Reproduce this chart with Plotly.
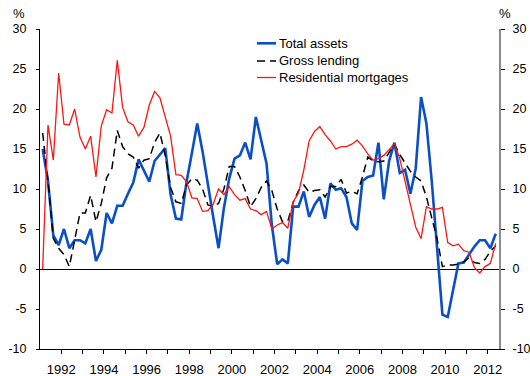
import pandas as pd
import plotly.graph_objects as go

# Quarterly observations, 1991 Q1 to 2012 Q2 (annual percentage change)
quarters = pd.period_range("1991Q1", "2012Q2", freq="Q")

total_assets = [
    15.0, 11.0, 4.2, 3.0, 5.0, 2.6, 3.6, 3.6, 3.2, 5.0,
    1.0, 2.4, 7.0, 5.7, 7.9, 7.9, 9.4, 10.8, 13.7, 12.4,
    10.9, 13.5, 14.3, 15.1, 9.3, 6.3, 6.2, 10.9, 14.5, 18.2,
    14.7, 10.3, 6.5, 2.6, 7.6, 11.3, 13.8, 14.2, 15.8, 13.7,
    19.0, 16.1, 13.2, 5.5, 0.6, 1.2, 0.7, 7.8, 7.8, 9.7,
    6.5, 8.0, 9.0, 6.3, 10.7, 9.9, 10.1, 9.0, 5.7, 4.9,
    11.0, 11.5, 11.7, 15.8, 8.7, 13.5, 15.8, 12.0, 12.4, 9.4,
    12.6, 21.5, 18.2, 11.0, 3.0, -5.7, -6.0, -2.6, 0.7, 0.8,
    1.8, 2.8, 3.6, 3.6, 2.6, 4.4,
]

gross_lending = [
    17.0, 11.0, 3.8, 2.6, 1.8, 0.3, 3.6, 7.0, 7.0, 9.2,
    5.9, 8.2, 11.4, 12.6, 17.3, 15.3, 14.4, 14.0, 12.6, 13.6,
    13.8, 15.8, 17.0, 14.2, 10.2, 8.4, 8.2, 10.5, 11.3, 11.1,
    10.0, 8.0, 7.8, 8.2, 10.0, 12.8, 12.8, 11.5, 9.8, 7.8,
    8.8, 10.2, 11.0, 9.8, 7.5, 5.9, 6.0, 8.3, 9.8, 10.5,
    9.6, 9.8, 9.9, 9.0, 10.3, 10.3, 11.2, 9.5, 9.7, 9.4,
    11.5, 14.0, 13.5, 13.4, 13.5, 14.6, 15.6, 14.3, 13.3, 12.2,
    11.5, 11.0, 9.0, 6.5, 3.8, 0.3, 0.5, 0.5, 0.6, 0.9,
    1.4, 0.8, 0.7, 1.2, 2.2, 2.9,
]

residential_mortgages = [
    0.0, 18.0, 13.6, 24.5, 18.1, 18.0, 20.0, 16.5, 15.0, 16.6,
    11.5, 17.9, 19.9, 19.5, 26.1, 20.2, 18.4, 18.0, 16.6, 17.7,
    20.5, 22.2, 21.4, 18.9, 16.6, 11.8, 11.7, 10.9, 8.9, 8.8,
    7.2, 7.3, 8.1, 10.0, 9.3, 10.3, 9.3, 8.6, 8.8, 7.5,
    7.3, 6.8, 7.2, 5.0, 5.5, 5.8, 5.1, 8.4, 9.5, 12.4,
    16.0, 17.2, 17.8, 16.8, 16.0, 15.0, 15.3, 15.3, 15.6, 16.1,
    15.4, 14.4, 13.6, 13.8, 14.2, 14.9, 15.7, 13.8, 11.0, 8.3,
    5.2, 3.8, 7.8, 7.5, 7.5, 7.7, 3.3, 2.9, 3.1, 2.3,
    2.1, 0.2, -0.5, 0.3, 0.7, 3.2,
]

year_ticks = list(range(1992, 2013))
year_labels = [str(y) if y % 2 == 0 else "" for y in year_ticks]
y_ticks = list(range(-10, 31, 5))
y_labels = [str(v) for v in y_ticks]  # plain hyphen for negatives

series_names = ["Total assets", "Gross lending", "Residential mortgages"]
series_colors = ["#0a4fc8", "#000000", "#ff1414"]
series_widths = [2.6, 1.5, 1.3]
series_dash = ["solid", "8px,5px", "solid"]

# Mid-quarter positions on a decimal-year axis
x_pos = [q.year + (q.quarter - 1) / 4 + 0.125 for q in quarters]

FONT = "Arial, Liberation Sans, sans-serif"
TICK_FONT = dict(family=FONT, size=12.5, color="#000000")

fig = go.Figure()
for name, vals, col, w, d in zip(series_names,
                                 [total_assets, gross_lending, residential_mortgages],
                                 series_colors, series_widths, series_dash):
    fig.add_trace(go.Scatter(
        x=x_pos, y=vals, mode="lines", name=name,
        line=dict(color=col, width=w, dash=d),
        showlegend=False,
    ))

fig.update_layout(
    width=530, height=376,
    margin=dict(l=40, r=31, t=29, b=27),
    paper_bgcolor="white", plot_bgcolor="white",
    font=dict(family=FONT, size=13, color="#000000"),
    xaxis=dict(
        range=[1991.0, 2012.53], tickvals=year_ticks, ticktext=year_labels,
        ticks="outside", ticklen=4, tickcolor="#000000", tickwidth=1,
        showline=True, linecolor="#000000", linewidth=1,
        showgrid=False, zeroline=False, ticklabelstandoff=4,
        automargin=False, tickfont=dict(family=FONT, size=13, color="#000000"),
    ),
    yaxis=dict(
        range=[-10, 30], tickvals=y_ticks, ticktext=y_labels,
        ticks="outside", ticklen=3, tickcolor="#000000",
        showline=True, linecolor="#000000", linewidth=1,
        showgrid=False, zeroline=True, zerolinecolor="#000000", zerolinewidth=1.3,
        ticklabelstandoff=7, automargin=False, tickfont=TICK_FONT,
    ),
    yaxis2=dict(
        range=[-10, 30], tickvals=y_ticks, ticktext=y_labels,
        overlaying="y", side="right",
        ticks="outside", ticklen=4, tickcolor="#000000",
        showline=True, linecolor="#8c8c8c", linewidth=2,
        showgrid=False, zeroline=False, ticklabelstandoff=5,
        automargin=False, tickfont=TICK_FONT,
    ),
)

# Invisible trace so the right-hand axis is drawn
fig.add_trace(go.Scatter(x=[x_pos[0]], y=[0], yaxis="y2", mode="markers",
                         marker=dict(opacity=0), showlegend=False, hoverinfo="skip"))

# Legend block drawn with shapes and text
legend_y = [0.9553, 0.9, 0.8484]
for name, col, w, d, ly in zip(series_names, series_colors, series_widths, series_dash, legend_y):
    fig.add_shape(type="line", xref="paper", yref="paper",
                  x0=0.4728, x1=0.5142, y0=ly, y1=ly,
                  line=dict(color=col, width=w, dash=d))
    fig.add_annotation(text=name, xref="paper", yref="paper", x=0.5163, y=ly,
                       xanchor="left", yanchor="middle", showarrow=False,
                       font=dict(family=FONT, size=13, color="#000000"))

for px in [-0.0447, 1.0131]:
    fig.add_annotation(text="%", xref="paper", yref="paper", x=px, y=1.047,
                       xanchor="center", yanchor="middle", showarrow=False,
                       font=dict(family=FONT, size=13, color="#000000"))

fig.write_html("out.html")
